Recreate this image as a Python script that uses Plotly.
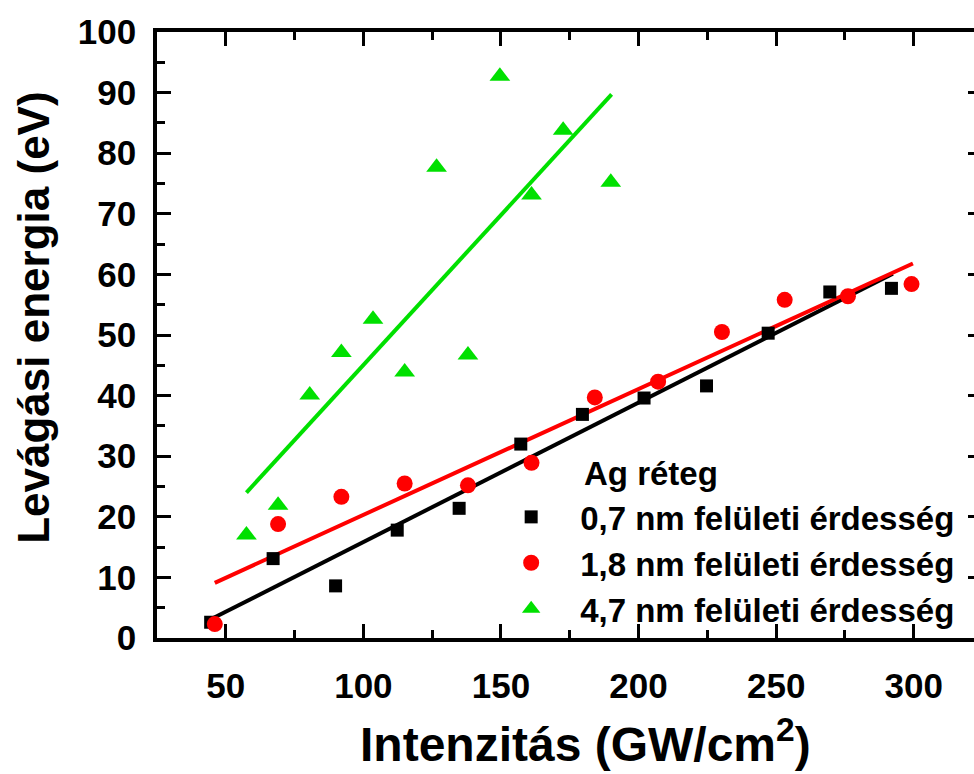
import plotly.graph_objects as go

# Data
x_07 = [44.5, 67.2, 89.9, 112.3, 134.8, 157.2, 179.6, 202.0, 224.7, 247.1, 269.5, 291.9]
y_07 = [2.6, 13.1, 8.6, 17.8, 21.4, 32.0, 36.9, 39.6, 41.6, 50.3, 57.1, 57.7]

x_18 = [46.0, 69.0, 92.0, 115.0, 138.0, 161.1, 184.1, 207.1, 230.3, 253.1, 276.1, 299.2]
y_18 = [2.3, 18.8, 23.3, 25.5, 25.2, 28.9, 39.7, 42.3, 50.5, 55.8, 56.4, 58.4]

x_47 = [57.5, 69.0, 80.5, 92.0, 103.5, 115.0, 126.6, 138.0, 149.6, 161.1, 172.6, 189.9]
y_47 = [17.0, 21.9, 40.1, 47.1, 52.6, 43.9, 77.7, 46.7, 92.7, 73.1, 83.8, 75.2]

# Linear fit lines (end points)
fit_x_07 = [44.2, 292.4]
fit_y_07 = [3.0, 60.1]
fit_x_18 = [46.0, 299.7]
fit_y_18 = [9.1, 61.8]
fit_x_47 = [57.5, 190.2]
fit_y_47 = [24.0, 89.7]

names = ["0,7 nm felületi érdesség", "1,8 nm felületi érdesség", "4,7 nm felületi érdesség"]
legend_title = "Ag réteg"
x_title = "Intenzitás (GW/cm<sup>2</sup>)"
y_title = "Levágási energia (eV)"

BLACK = "#000000"
RED = "#ff0000"
GREEN = "#00e000"
FONT = "Liberation Sans, Arial, sans-serif"

fig = go.Figure()

for fx, fy, c in [(fit_x_07, fit_y_07, BLACK), (fit_x_18, fit_y_18, RED), (fit_x_47, fit_y_47, GREEN)]:
    fig.add_trace(go.Scatter(x=fx, y=fy, mode="lines", line=dict(color=c, width=4),
                             showlegend=False, hoverinfo="skip"))

fig.add_trace(go.Scatter(x=x_07, y=y_07, mode="markers", name=names[0],
                         marker=dict(symbol="square", size=13, color=BLACK)))
fig.add_trace(go.Scatter(x=x_18, y=y_18, mode="markers", name=names[1],
                         marker=dict(symbol="circle", size=16, color=RED)))
fig.add_trace(go.Scatter(x=x_47, y=y_47, mode="markers", name=names[2],
                         marker=dict(symbol="triangle-up", size=18, color=GREEN)))

# dummy trace for the right-hand tick axis
fig.add_trace(go.Scatter(x=[None], y=[None], yaxis="y2", showlegend=False, hoverinfo="skip"))

fig.update_layout(
    width=974, height=774,
    margin=dict(l=157, r=0, t=32, b=136),
    paper_bgcolor="white", plot_bgcolor="white",
    font=dict(family=FONT, color="black"),
    showlegend=True,
    legend=dict(x=0.398, y=0.246, xanchor="left", yanchor="top",
                bgcolor="rgba(0,0,0,0)", borderwidth=0,
                font=dict(family=FONT, size=33, color="black", weight="bold"),
                itemwidth=88, tracegroupgap=0),
    xaxis=dict(range=[25, 321.9], tickmode="linear", tick0=0, dtick=50,
               ticks="inside", ticklen=14, tickwidth=3, tickcolor="black",
               showline=True, linewidth=3.5, linecolor="black", mirror="ticks",
               showgrid=False, zeroline=False,
               minor=dict(dtick=25, tick0=0, ticks="inside", ticklen=8, tickwidth=3, tickcolor="black", showgrid=False),
               tickfont=dict(family=FONT, size=35, color="black", weight="bold"),
               ticklabelstandoff=14),
    yaxis=dict(range=[0, 100], tickmode="linear", tick0=0, dtick=10,
               ticks="inside", ticklen=14, tickwidth=3, tickcolor="black",
               showline=True, linewidth=3.5, linecolor="black", mirror=False,
               showgrid=False, zeroline=False,
               minor=dict(dtick=5, tick0=0, ticks="inside", ticklen=8, tickwidth=3, tickcolor="black", showgrid=False),
               tickfont=dict(family=FONT, size=35, color="black", weight="bold"),
               ticklabelstandoff=10),
    yaxis2=dict(range=[0, 100], overlaying="y", side="right", anchor="x",
                tickmode="linear", tick0=0, dtick=10, ticks="inside", ticklen=6, tickwidth=3,
                tickcolor="black", showline=False, showgrid=False, zeroline=False,
                showticklabels=False),
    annotations=[
        dict(text=legend_title, x=0.52, y=0.272, xref="paper", yref="paper",
             xanchor="left", yanchor="middle", showarrow=False,
             font=dict(family=FONT, size=33, color="black", weight="bold")),
        dict(text=x_title, x=(585 - 157) / 817, y=-0.222, xref="paper", yref="paper",
             xanchor="center", yanchor="bottom", showarrow=False,
             font=dict(family=FONT, size=48, color="black", weight="bold")),
        dict(text=y_title, x=-0.152, y=(638 - 318) / 606, xref="paper", yref="paper",
             xanchor="center", yanchor="middle", showarrow=False, textangle=-90,
             font=dict(family=FONT, size=44, color="black", weight="bold")),
    ],
)

fig.write_html("out.html")
